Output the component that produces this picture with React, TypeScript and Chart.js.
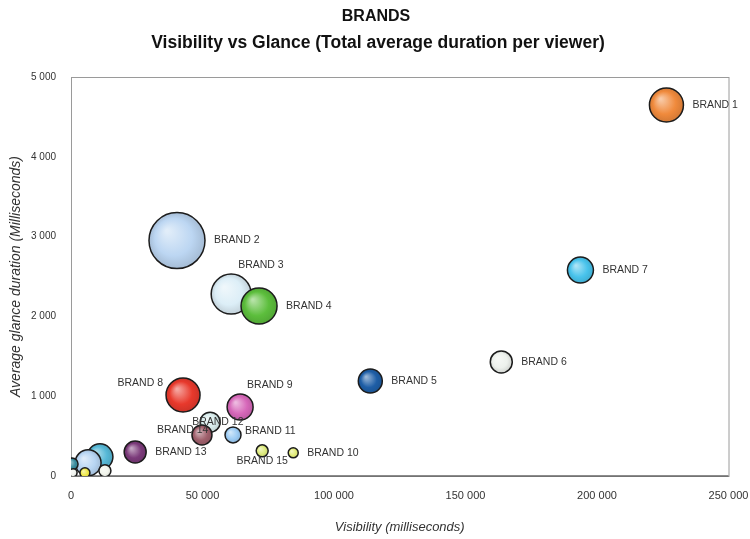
import React, { useEffect, useRef } from "react";
import { Chart, registerables } from "chart.js";

Chart.register(...registerables);

// ---- Data ----
const brands = [
  "BRAND 1", "BRAND 2", "BRAND 3", "BRAND 4", "BRAND 5", "BRAND 6", "BRAND 7",
  "BRAND 8", "BRAND 9", "BRAND 10", "BRAND 11", "BRAND 12", "BRAND 13", "BRAND 14",
  "BRAND 15", "", "", "", "", "", "",
];
const visibility = [
  226400, 40300, 60900, 71500, 113800, 163600, 193700,
  42600, 64300, 84500, 61600, 52900, 24400, 49800,
  72700, 11000, 6500, 400, 800, 5300, 12900,
];
const glance = [
  4650, 2950, 2280, 2130, 1190, 1430, 2580,
  1015, 865, 290, 515, 675, 300, 515,
  315, 240, 165, 150, 40, 40, 65,
];
const bubbleSize = [
  17, 28, 20, 18, 12, 11, 13,
  17, 13, 5, 8, 10, 11, 10,
  6, 13, 13, 6, 4, 5, 6,
];
const colors = [
  "#F08A3C", "#BCD6F2", "#DCEEF7", "#5CBE3C", "#1E5EA6", "#EDF1EC", "#48C3EC",
  "#E8392C", "#D667B9", "#E2EC78", "#9CCBF4", "#D8ECEC", "#7B3A7A", "#A0606C",
  "#DDEA7C", "#56B8D6", "#B7D5F3", "#3A8C9E", "#F0F3EE", "#EEE84A", "#F2F5EC",
];
// label placement keyword per brand
const labelPlacement = [
  "right", "right", "aboveRight", "right", "right", "right", "right",
  "leftUp", "aboveRight", "right", "rightUp", "over", "right", "overLeft",
  "below", "", "", "", "", "", "",
];
const xTicks = [0, 50000, 100000, 150000, 200000, 250000];
const yTicks = [0, 1000, 2000, 3000, 4000, 5000];

const titleText = "BRANDS";
const subtitleText = "Visibility vs Glance (Total average duration per viewer)";
const xTitle = "Visibility (milliseconds)";
const yTitle = "Average glance duration (Milliseconds)";

const FONT = "'Liberation Sans', Arial, Helvetica, sans-serif";
const CANVAS_W = 758;
const CANVAS_H = 539;

function fmt(v: number) {
  return String(v).replace(/\B(?=(\d{3})+(?!\d))/g, " ");
}

function mix(hex: string, target: number, amt: number) {
  const n = parseInt(hex.slice(1), 16);
  const r = (n >> 16) & 255, g = (n >> 8) & 255, b = n & 255;
  const m = (c: number) => Math.round(c + (target - c) * amt);
  return `rgb(${m(r)},${m(g)},${m(b)})`;
}

const plotFrame = {
  id: "plotFrame",
  beforeDatasetsDraw(chart: any) {
    const { ctx, chartArea: a } = chart;
    ctx.save();
    ctx.strokeStyle = "#9a9a9a";
    ctx.lineWidth = 1;
    ctx.strokeRect(a.left + 0.5, a.top + 0.5, a.right - a.left, a.bottom - a.top);
    ctx.strokeStyle = "#666";
    ctx.lineWidth = 1.5;
    ctx.beginPath();
    ctx.moveTo(a.left, a.bottom);
    ctx.lineTo(a.right, a.bottom);
    ctx.stroke();
    ctx.restore();
  },
};

const bubbleLabels = {
  id: "bubbleLabels",
  afterDatasetsDraw(chart: any) {
    const { ctx } = chart;
    const meta = chart.getDatasetMeta(0);
    ctx.save();
    ctx.font = `10.5px ${FONT}`;
    ctx.fillStyle = "#333";
    ctx.textBaseline = "middle";
    meta.data.forEach((el: any, i: number) => {
      const name = brands[i];
      const p = labelPlacement[i];
      if (!name || !p) return;
      const cx = el.x, cy = el.y, r = bubbleSize[i];
      let x = cx + r + 9, y = cy, align: CanvasTextAlign = "left";
      if (p === "aboveRight") { x = cx + 7; y = cy - r - 9; }
      else if (p === "leftUp") { x = cx - r - 3; y = cy - 12; align = "right"; }
      else if (p === "rightUp") { x = cx + r + 4; y = cy - 4; }
      else if (p === "over") { x = cx - 18; y = cy; }
      else if (p === "overLeft") { x = cx - 45; y = cy - 5; }
      else if (p === "below") { x = cx; y = cy + r + 4; align = "center"; }
      ctx.textAlign = align;
      ctx.fillText(name, x, y);
    });
    ctx.restore();
  },
};

const titles = {
  id: "titles",
  afterDraw(chart: any) {
    const { ctx } = chart;
    ctx.save();
    ctx.fillStyle = "#111";
    ctx.textAlign = "center";
    ctx.textBaseline = "middle";
    ctx.font = `bold 16px ${FONT}`;
    ctx.fillText(titleText, 376, 17);
    ctx.font = `bold 17.5px ${FONT}`;
    ctx.fillText(subtitleText, 378, 43);
    ctx.restore();
  },
};

export default function App() {
  const ref = useRef<HTMLCanvasElement | null>(null);

  useEffect(() => {
    if (!ref.current) return;
    const data = visibility.map((v, i) => ({ x: v, y: glance[i], r: bubbleSize[i] }));
    const chart = new Chart(ref.current, {
      type: "bubble",
      data: {
        labels: brands,
        datasets: [
          {
            label: "Brands",
            data,
            clip: 0,
            borderColor: "#1c1c1c",
            borderWidth: 1.5,
            backgroundColor: (c: any) => {
              const i = c.dataIndex;
              const base = colors[i] || "#ccc";
              const ch = c.chart;
              const xs = ch.scales && ch.scales.x;
              const ys = ch.scales && ch.scales.y;
              if (c.type !== "data" || !xs || !ys || !ch.chartArea) return base;
              const cx = xs.getPixelForValue(visibility[i]);
              const cy = ys.getPixelForValue(glance[i]);
              const r = bubbleSize[i];
              if (!isFinite(cx) || !isFinite(cy)) return base;
              const g = ch.ctx.createRadialGradient(cx - r * 0.35, cy - r * 0.35, r * 0.05, cx, cy, r);
              g.addColorStop(0, mix(base, 255, 0.55));
              g.addColorStop(0.65, base);
              g.addColorStop(1, mix(base, 0, 0.12));
              return g;
            },
          } as any,
        ],
      },
      options: {
        responsive: false,
        devicePixelRatio: 1,
        animation: false,
        layout: { padding: { top: 77, left: 0, right: 14, bottom: 0 } },
        plugins: {
          legend: { display: false },
          title: { display: false },
          tooltip: { enabled: false },
        },
        scales: {
          x: {
            type: "linear",
            min: 0,
            max: 250000,
            afterFit: (s: any) => { s.height = 63; s.paddingRight = 0; s.paddingLeft = 0; },
            afterBuildTicks: (s: any) => { s.ticks = xTicks.map((v) => ({ value: v })); },
            grid: { display: false, drawTicks: false },
            border: { display: false },
            ticks: {
              padding: 13,
              color: "#333",
              font: { family: FONT, size: 11 },
              callback: (v: any) => fmt(Number(v)),
              maxRotation: 0,
            },
            title: {
              display: true,
              text: xTitle,
              color: "#333",
              font: { family: FONT, size: 13, style: "italic" },
              padding: { top: 0, bottom: 4 },
            },
          },
          y: {
            type: "linear",
            min: 0,
            max: 5000,
            afterFit: (s: any) => { s.width = 71; s.paddingTop = 0; s.paddingBottom = 0; },
            afterBuildTicks: (s: any) => { s.ticks = yTicks.map((v) => ({ value: v })); },
            grid: { display: false, drawTicks: false },
            border: { display: false },
            ticks: {
              padding: 15,
              color: "#333",
              font: { family: FONT, size: 10 },
              callback: (v: any) => fmt(Number(v)),
            },
            title: {
              display: true,
              text: yTitle,
              color: "#333",
              font: { family: FONT, size: 14, style: "italic" },
              padding: { top: 8, bottom: 0 },
            },
          },
        },
      },
      plugins: [plotFrame, bubbleLabels, titles],
    });
    return () => chart.destroy();
  }, []);

  return (
    <div style={{ position: "fixed", left: 0, top: 0, width: 750, height: 539, overflow: "hidden", background: "#fff" }}>
      <canvas ref={ref} width={CANVAS_W} height={CANVAS_H} style={{ display: "block", width: CANVAS_W, height: CANVAS_H }} />
    </div>
  );
}
